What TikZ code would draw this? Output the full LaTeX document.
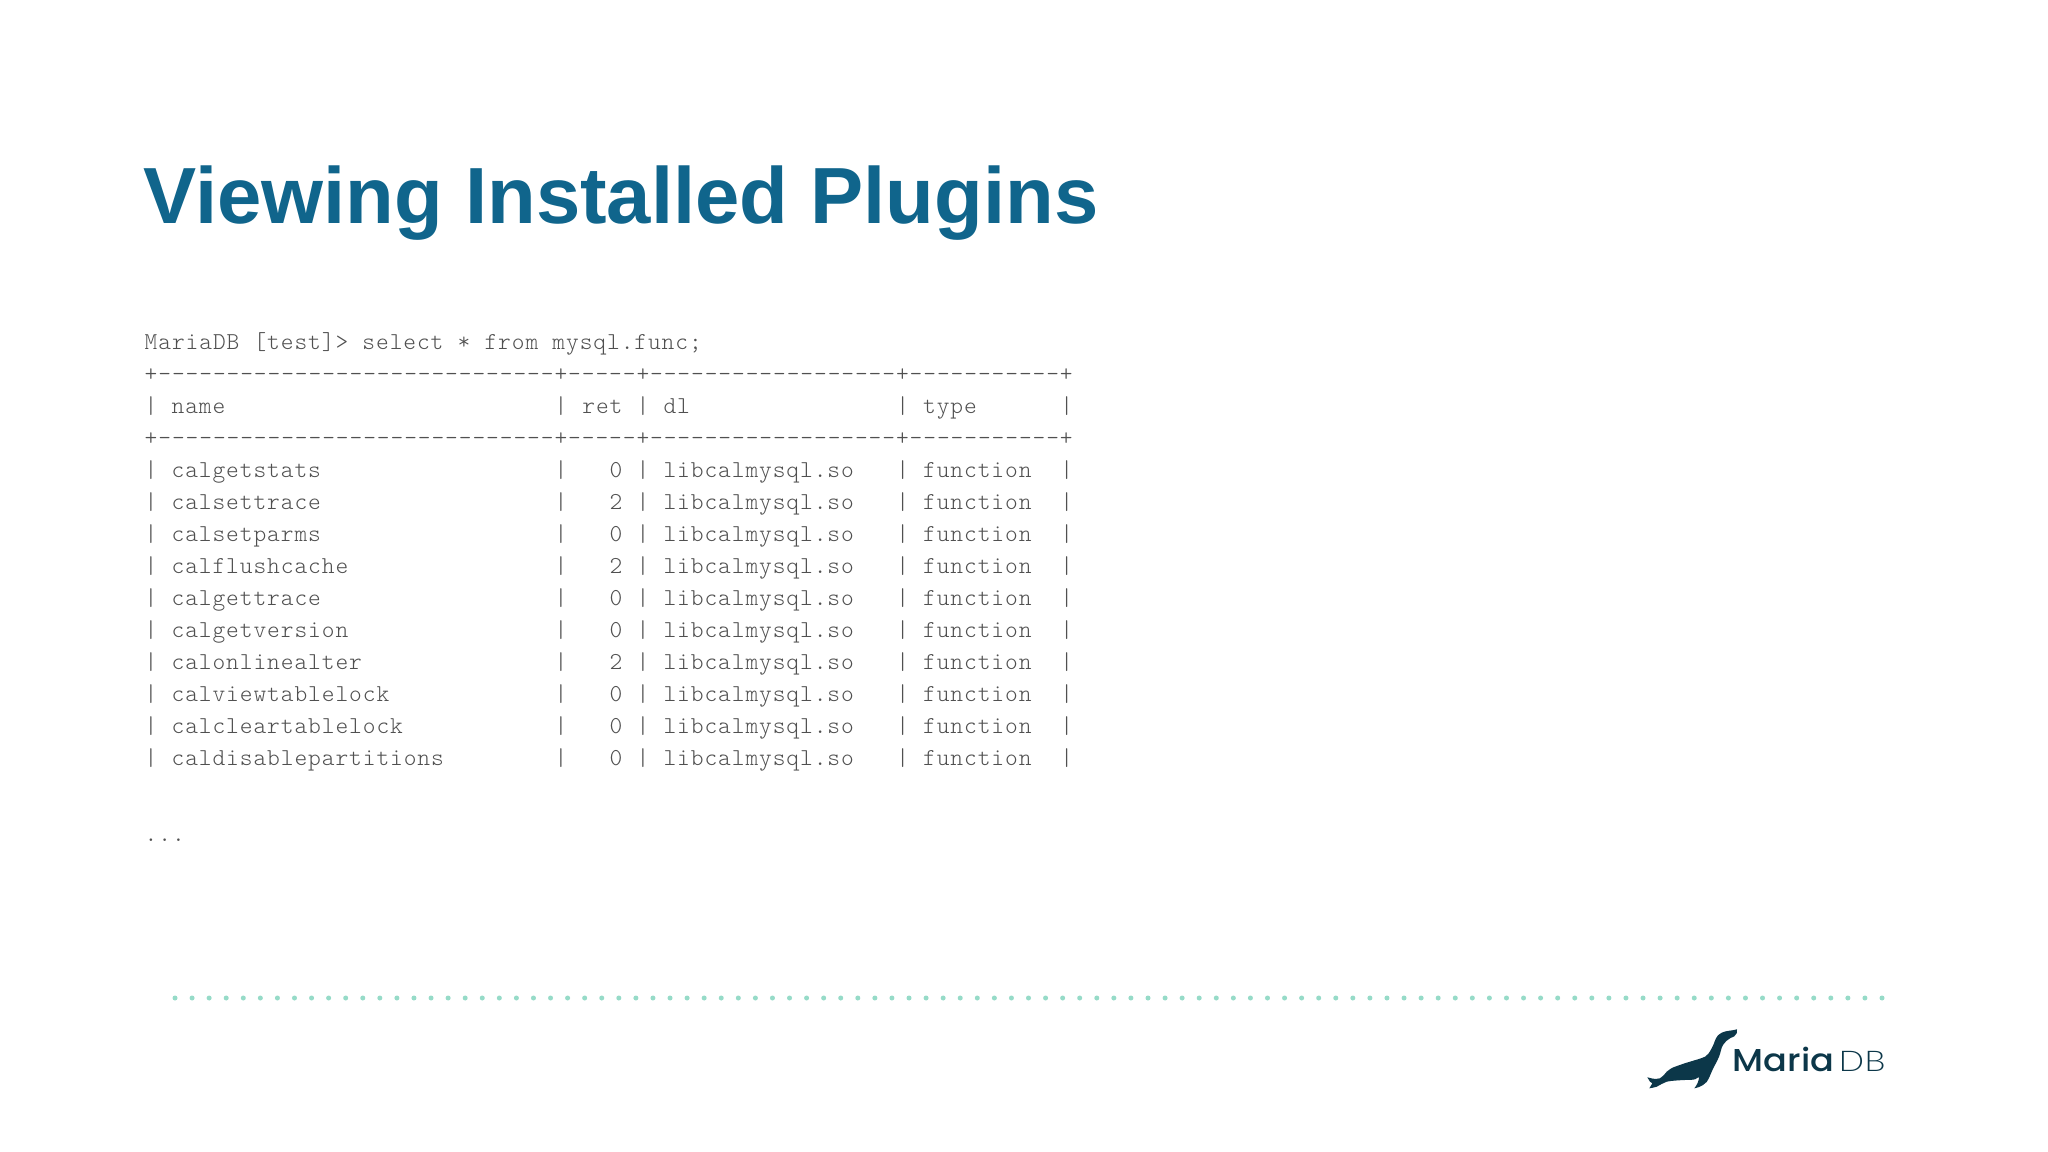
\documentclass[tikz,border=0pt]{standalone}
\usepackage{xcolor}
\usepackage{fontspec}
\usepackage{tikz}
\setmainfont{Liberation Sans}
\setmonofont{Latin Modern Mono Light}[LetterSpace=3.8,WordSpace=1.037]
\newfontfamily\logofont{Poppins Medium}
\newfontfamily\logolight{Lato Light}
\definecolor{mdbtitle}{RGB}{16, 101, 140}
\definecolor{mdbtext}{RGB}{80, 80, 80}
\definecolor{mdbdot}{RGB}{150, 219, 200}
\definecolor{mdbseal}{RGB}{12, 55, 73}
\newlength{\chw}
\setlength{\chw}{13.66\dimexpr 0.01cm\relax}
\newcommand{\tabrow}[4]{| \makebox[27\chw][l]{#1} | \makebox[3\chw][r]{#2} | \makebox[16\chw][l]{#3} | \makebox[9\chw][l]{#4} |}
\newcommand{\tabrule}{+-----------------------------+-----+------------------+-----------+}
\tikzset{
  monoline/.style={anchor=base west, inner sep=0pt, text=mdbtext, font=\ttfamily\fontsize{6.9}{8}\selectfont},
  titleline/.style={anchor=base west, inner sep=0pt, text=mdbtitle, font=\bfseries\fontsize{22.65}{26}\selectfont},
  logoline/.style={anchor=base west, inner sep=0pt, text=mdbseal}
}

\begin{document}
\begin{tikzpicture}[x=0.01cm,y=-0.01cm]
\useasboundingbox (0,0) rectangle (2048,1152);
\fill[white] (0,0) rectangle (2048,1152);

% Title
\node[titleline] (title) at (143,224) {Viewing Installed Plugins};

% Query and table
\node[monoline] (query) at (144,349.5) {MariaDB [test]> select * from mysql.func;};
\node[monoline] (ruletop) at (144,381.5) {\tabrule};
\node[monoline] (header) at (144,413.5) {\tabrow{name}{ret}{dl}{type}};
\node[monoline] (rulemid) at (144,445.5) {\tabrule};
\foreach \i/\fname/\fret in {0/calgetstats/0,1/calsettrace/2,2/calsetparms/0,3/calflushcache/2,4/calgettrace/0,5/calgetversion/0,6/calonlinealter/2,7/calviewtablelock/0,8/calcleartablelock/0,9/caldisablepartitions/0} {
    \node[monoline] (row\i) at (144,477.5+32*\i) {\tabrow{\fname}{\fret}{libcalmysql.so}{function}};
}
\node[monoline] (more) at (144,841) {...};

% Dotted rule
\foreach \i in {0,...,100} {
    \fill[mdbdot] (175+17.07*\i,998) circle (2.5);
}

% Logo
\fill[mdbseal] (1737,1029.3)
  .. controls (1734,1030) and (1732,1030.5) .. (1729.3,1030.7)
  .. controls (1726,1031) and (1723,1032) .. (1721.7,1032.7)
  .. controls (1718,1035) and (1717,1036) .. (1716,1038.3)
  .. controls (1714,1042) and (1714,1045) .. (1711.7,1048.3)
  .. controls (1709,1053) and (1708,1055) .. (1705,1056.7)
  .. controls (1700,1059) and (1695,1060) .. (1690,1061.7)
  .. controls (1685,1063) and (1680,1065) .. (1675,1066.7)
  .. controls (1671,1068) and (1669,1070) .. (1666.7,1071.7)
  .. controls (1664,1075) and (1662,1077) .. (1660,1078.3)
  .. controls (1657,1079) and (1655,1079) .. (1653,1078.7)
  -- (1647.3,1077.3) -- (1650,1081.7) -- (1652.3,1083.3) -- (1649.3,1088.3)
  .. controls (1652,1088) and (1654,1087.5) .. (1656.7,1086.7)
  .. controls (1660,1085) and (1663,1083) .. (1666.7,1081.7)
  .. controls (1672,1080.5) and (1678,1080.5) .. (1683.3,1080)
  .. controls (1688,1080) and (1692,1080) .. (1695,1079.3)
  -- (1699,1077)
  .. controls (1699,1081) and (1697,1085) .. (1694.3,1088.3)
  .. controls (1698,1087.5) and (1701,1086.5) .. (1703,1085)
  .. controls (1706,1083) and (1708,1081) .. (1709,1078)
  .. controls (1710,1075) and (1710.5,1074) .. (1711.7,1071.7)
  .. controls (1714,1066) and (1717,1062) .. (1719,1056.7)
  .. controls (1721,1052) and (1721,1048) .. (1723,1045)
  .. controls (1725,1042) and (1727,1040) .. (1730,1038.3)
  .. controls (1733,1037) and (1736,1036) .. (1736.7,1033.3)
  -- cycle;
\node[logoline, font=\logofont\fontsize{9}{10}\selectfont] (logomaria) at (1732,1071) {\scalebox{1.11}[1]{Maria}};
\node[logoline, font=\logolight\fontsize{8.1}{10}\selectfont] (logodb) at (1838,1071) {\scalebox{1.18}[1]{DB}};
\end{tikzpicture}
\end{document}
